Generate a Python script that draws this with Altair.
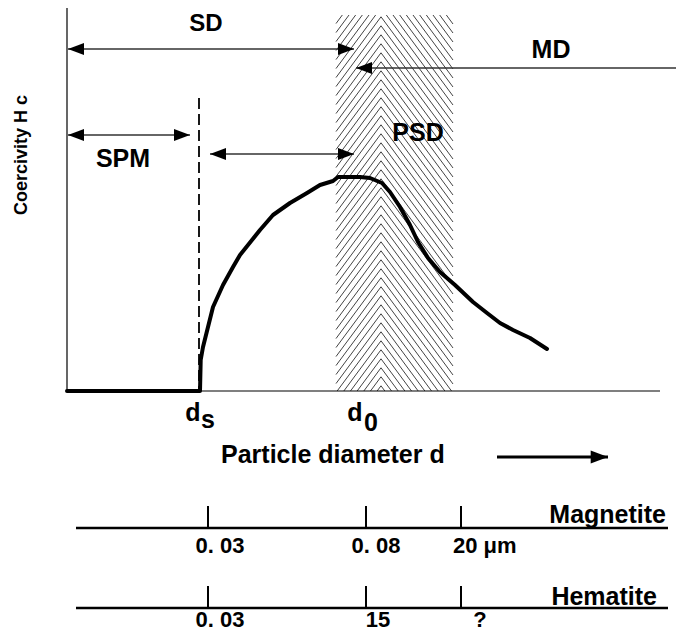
import altair as alt
import pandas as pd

# ---------------- data (diagram coordinates, in px) -------------
# coercivity curve Hc(d)
curve_x = [67, 200, 200.7, 203, 208, 213, 223, 233, 240, 252, 260, 273, 290, 307, 320,
           333, 338, 350, 360, 370, 382, 390, 400, 410, 418, 428, 440, 455, 473, 487,
           500, 513, 530, 547]
curve_y = [391, 391, 360, 347, 327, 307, 285, 267, 255, 240, 230, 215, 203, 193, 185,
           181, 177, 177, 177, 178, 183, 192, 207, 225, 242, 258, 272, 285, 302, 313,
           323, 330, 338, 349]

# domain arrows (double headed)
arrow_name = ["SD", "MD", "SPM", "SSD"]
arrow_x1 = [68, 356, 68, 210]
arrow_x2 = [354, 694, 190, 354]
arrow_y = [49, 68, 135, 154]

# PSD band
psd_left, psd_mid, psd_right = 336, 381, 453

# size scales
scale_names = ["Magnetite", "Hematite"]
scale_line_y = [528, 608]
scale_tick_x = [208, 366, 461]
mag_labels = ["0. 03", "0. 08", "20  μm"]
hem_labels = ["0. 03", "15", "?"]

# ---------------- layout ----------------
W, H = 668, 625
X0, Y0 = 8, 8
xs = alt.Scale(domain=[X0, X0 + W], nice=False, zero=False)
ys = alt.Scale(domain=[Y0, Y0 + H], nice=False, zero=False, reverse=True)
FONT = "Liberation Sans"


def X(f):
    return alt.X(f, type="quantitative", scale=xs, axis=None)


def Y(f):
    return alt.Y(f, type="quantitative", scale=ys, axis=None)


def rules(rows, color="black", width=1.0, dash=None):
    df = pd.DataFrame(rows, columns=["x", "y", "x2", "y2"])
    kw = dict(color=color, strokeWidth=width)
    if dash:
        kw["strokeDash"] = dash
    return alt.Chart(df).mark_rule(**kw).encode(
        x=X("x"), y=Y("y"), x2="x2", y2="y2")


# hatch pattern (herringbone) of the PSD band
top, bottom = 15, 391
spacing, slope = 9.0, 1.35
hatch = []
c = top - slope * max(psd_right - psd_mid, psd_mid - psd_left)
while c <= bottom:
    # left arm "/"
    xa = max(psd_left, psd_mid - (bottom - c) / slope)
    xb = min(psd_mid, psd_mid - (top - c) / slope)
    if xa < xb:
        hatch.append([xa, c + slope * (psd_mid - xa), xb, c + slope * (psd_mid - xb)])
    # right arm "\"
    xa = max(psd_mid, psd_mid + (top - c) / slope)
    xb = min(psd_right, psd_mid + (bottom - c) / slope)
    if xa < xb:
        hatch.append([xa, c + slope * (xa - psd_mid), xb, c + slope * (xb - psd_mid)])
    c += spacing

layers = []
layers.append(rules(hatch, color="#444444", width=1.0))

# axes
layers.append(rules([[67, 7, 67, 391], [67, 391, 660, 391]], width=1.2))
# dashed d_s line
layers.append(rules([[199, 98, 199, 391]], width=1.8, dash=[11, 5]))

# curve
cdf = pd.DataFrame({"x": curve_x, "y": curve_y})
layers.append(alt.Chart(cdf).mark_line(color="black", strokeWidth=4, strokeJoin="round",
                                       strokeCap="round").encode(x=X("x"), y=Y("y")))

# arrows
adf = pd.DataFrame({"name": arrow_name, "x1": arrow_x1, "x2": arrow_x2, "y": arrow_y})
layers.append(alt.Chart(adf).mark_rule(color="#333333", strokeWidth=1.3).encode(
    x=X("x1"), x2="x2", y=Y("y")))
RIGHT = "M0,0L-1,-0.375L-1,0.375Z"
LEFT = "M0,0L1,-0.375L1,0.375Z"
layers.append(alt.Chart(adf).mark_point(shape=RIGHT, filled=True, color="black", size=1024,
                                        opacity=1, strokeWidth=0).encode(x=X("x2"), y=Y("y")))
layers.append(alt.Chart(adf).mark_point(shape=LEFT, filled=True, color="black", size=1024,
                                        opacity=1, strokeWidth=0).encode(x=X("x1"), y=Y("y")))

# particle-diameter arrow
pdf = pd.DataFrame({"x1": [497], "x2": [608], "y": [457]})
layers.append(alt.Chart(pdf).mark_rule(color="black", strokeWidth=3).encode(
    x=X("x1"), x2="x2", y=Y("y")))
layers.append(alt.Chart(pdf).mark_point(shape=RIGHT, filled=True, color="black", size=1200,
                                        opacity=1, strokeWidth=0).encode(x=X("x2"), y=Y("y")))

# size scales
srows, trows = [], []
for ly in scale_line_y:
    srows.append([76, ly, 668, ly])
    for tx in scale_tick_x:
        trows.append([tx, ly - 22, tx, ly])
layers.append(rules(srows, width=2.7))
layers.append(rules(trows, width=2.0))


def texts(rows, align="center", size=25, angle=0):
    df = pd.DataFrame(rows, columns=["t", "x", "y"])
    return alt.Chart(df).mark_text(align=align, baseline="alphabetic", font=FONT,
                                   fontWeight="bold", fontSize=size, angle=angle,
                                   color="black").encode(x=X("x"), y=Y("y"), text="t:N")


layers.append(texts([["SD", 206, 31]], size=24))
layers.append(texts([["MD", 551, 58], ["SPM", 123, 167], ["PSD", 418, 141],
                     ["d", 193, 421], ["s", 208, 428], ["d", 355, 421], ["0", 371, 431]]))
layers.append(texts([["Particle diameter   d", 221, 463]], align="left"))
layers.append(texts([[scale_names[0], 666, 523], [scale_names[1], 657, 605]], align="right"))
layers.append(texts([[mag_labels[0], 220, 553], [mag_labels[1], 376, 553],
                     [hem_labels[0], 220, 627], [hem_labels[1], 378, 627],
                     [hem_labels[2], 480, 627]], size=22))
layers.append(texts([[mag_labels[2], 453, 553]], align="left", size=22))
layers.append(texts([["Coercivity  H  c", 27, 155]], size=18, angle=270))

chart = alt.layer(*layers).properties(
    width=W, height=H, autosize=alt.AutoSizeParams(type="none"), padding=0
).configure_view(strokeWidth=0)

chart.save("out.html", embed_options={"renderer": "svg", "actions": False})
